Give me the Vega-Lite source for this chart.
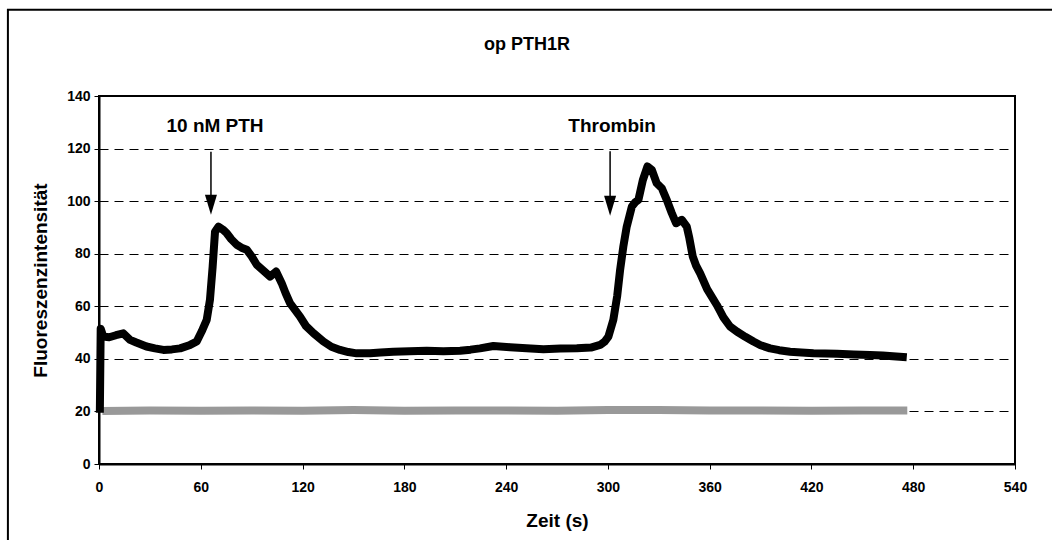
{
  "$schema": "https://vega.github.io/schema/vega-lite/v6.json",
  "width": 916,
  "height": 368,
  "autosize": {"type": "none"},
  "padding": {"left": 99, "top": 96, "right": 37, "bottom": 76},
  "background": "white",
  "title": {"text": "op PTH1R", "font": "Liberation Sans", "fontSize": 18, "fontWeight": "bold", "color": "black", "anchor": "middle", "offset": -45, "dx": -30},
  "config": {
    "view": {"stroke": "black", "strokeWidth": 2},
    "axis": {
      "domainColor": "black", "domainWidth": 2, "tickColor": "black", "tickWidth": 1, "tickSize": 5,
      "labelFont": "Liberation Sans", "labelFontSize": 14, "labelFontWeight": "bold", "labelColor": "black",
      "titleFont": "Liberation Sans", "titleFontWeight": "bold", "titleColor": "black"
    }
  },
  "datasets": {
    "signal": [
      {"t": 0.5, "v": 19.5, "s": "black"}, {"t": 1.0, "v": 51.5, "s": "black"}, {"t": 2.5, "v": 48.5, "s": "black"},
      {"t": 6, "v": 48.2, "s": "black"}, {"t": 10, "v": 49.0, "s": "black"}, {"t": 14.3, "v": 49.7, "s": "black"},
      {"t": 18.3, "v": 47.2, "s": "black"}, {"t": 22, "v": 46.2, "s": "black"}, {"t": 28, "v": 44.7, "s": "black"},
      {"t": 33, "v": 44.0, "s": "black"}, {"t": 38, "v": 43.4, "s": "black"}, {"t": 43, "v": 43.6, "s": "black"},
      {"t": 47.8, "v": 44.0, "s": "black"}, {"t": 53.7, "v": 45.3, "s": "black"}, {"t": 57.6, "v": 46.6, "s": "black"},
      {"t": 60.5, "v": 50.4, "s": "black"}, {"t": 63.5, "v": 54.8, "s": "black"}, {"t": 65.4, "v": 62.4, "s": "black"},
      {"t": 67, "v": 75.1, "s": "black"}, {"t": 68.4, "v": 88.4, "s": "black"}, {"t": 70.4, "v": 90.3, "s": "black"},
      {"t": 73, "v": 89.2, "s": "black"}, {"t": 75.3, "v": 87.8, "s": "black"}, {"t": 78, "v": 85.5, "s": "black"},
      {"t": 81.2, "v": 83.4, "s": "black"}, {"t": 84, "v": 82.3, "s": "black"}, {"t": 87.1, "v": 81.5, "s": "black"},
      {"t": 90, "v": 79.0, "s": "black"}, {"t": 93, "v": 75.8, "s": "black"}, {"t": 97, "v": 73.5, "s": "black"},
      {"t": 100.8, "v": 71.3, "s": "black"}, {"t": 104.4, "v": 73.2, "s": "black"}, {"t": 107.7, "v": 68.8, "s": "black"},
      {"t": 110, "v": 65.0, "s": "black"}, {"t": 112.6, "v": 61.2, "s": "black"}, {"t": 118.5, "v": 56.1, "s": "black"},
      {"t": 122, "v": 52.5, "s": "black"}, {"t": 126.4, "v": 49.8, "s": "black"}, {"t": 132.3, "v": 46.6, "s": "black"},
      {"t": 137, "v": 44.6, "s": "black"}, {"t": 142.1, "v": 43.4, "s": "black"}, {"t": 147, "v": 42.6, "s": "black"},
      {"t": 151.9, "v": 42.1, "s": "black"}, {"t": 159.8, "v": 42.1, "s": "black"}, {"t": 166, "v": 42.4, "s": "black"},
      {"t": 173.5, "v": 42.7, "s": "black"}, {"t": 183, "v": 42.9, "s": "black"}, {"t": 193.2, "v": 43.1, "s": "black"},
      {"t": 203, "v": 42.9, "s": "black"}, {"t": 212.9, "v": 43.1, "s": "black"}, {"t": 219, "v": 43.5, "s": "black"},
      {"t": 224.6, "v": 44.0, "s": "black"}, {"t": 232.5, "v": 44.9, "s": "black"}, {"t": 242.3, "v": 44.4, "s": "black"},
      {"t": 252, "v": 44.0, "s": "black"}, {"t": 262, "v": 43.7, "s": "black"}, {"t": 272, "v": 43.9, "s": "black"},
      {"t": 281.7, "v": 44.0, "s": "black"}, {"t": 290, "v": 44.3, "s": "black"}, {"t": 295.4, "v": 45.3, "s": "black"},
      {"t": 298, "v": 46.5, "s": "black"}, {"t": 300.3, "v": 48.5, "s": "black"}, {"t": 303.2, "v": 54.8, "s": "black"},
      {"t": 305.5, "v": 64.0, "s": "black"}, {"t": 307.2, "v": 73.8, "s": "black"}, {"t": 309.1, "v": 82.7, "s": "black"},
      {"t": 311.1, "v": 90.3, "s": "black"}, {"t": 314.1, "v": 97.9, "s": "black"}, {"t": 316, "v": 99.5, "s": "black"},
      {"t": 318, "v": 100.5, "s": "black"}, {"t": 320.6, "v": 108.0, "s": "black"}, {"t": 323.3, "v": 113.2, "s": "black"},
      {"t": 325.9, "v": 111.9, "s": "black"}, {"t": 328.8, "v": 106.8, "s": "black"}, {"t": 331.8, "v": 104.9, "s": "black"},
      {"t": 334.7, "v": 100.5, "s": "black"}, {"t": 337.7, "v": 95.4, "s": "black"}, {"t": 340.2, "v": 91.6, "s": "black"},
      {"t": 343.6, "v": 92.9, "s": "black"}, {"t": 346.5, "v": 90.3, "s": "black"}, {"t": 348, "v": 86.0, "s": "black"},
      {"t": 350, "v": 79.0, "s": "black"}, {"t": 352, "v": 75.5, "s": "black"}, {"t": 354.4, "v": 72.5, "s": "black"},
      {"t": 358.5, "v": 66.5, "s": "black"}, {"t": 364.2, "v": 60.5, "s": "black"}, {"t": 368.1, "v": 55.8, "s": "black"},
      {"t": 372, "v": 52.3, "s": "black"}, {"t": 376, "v": 50.4, "s": "black"}, {"t": 381, "v": 48.4, "s": "black"},
      {"t": 385.8, "v": 46.6, "s": "black"}, {"t": 390, "v": 45.2, "s": "black"}, {"t": 395.6, "v": 44.0, "s": "black"},
      {"t": 401, "v": 43.3, "s": "black"}, {"t": 407.4, "v": 42.7, "s": "black"}, {"t": 414, "v": 42.4, "s": "black"},
      {"t": 421.2, "v": 42.1, "s": "black"}, {"t": 428, "v": 42.0, "s": "black"}, {"t": 435, "v": 41.9, "s": "black"},
      {"t": 445, "v": 41.7, "s": "black"}, {"t": 454.6, "v": 41.5, "s": "black"}, {"t": 462, "v": 41.3, "s": "black"},
      {"t": 470, "v": 40.9, "s": "black"}, {"t": 476.2, "v": 40.6, "s": "black"},
      {"t": 2, "v": 20.2, "s": "gray"}, {"t": 30, "v": 20.4, "s": "gray"}, {"t": 60, "v": 20.3, "s": "gray"},
      {"t": 90, "v": 20.4, "s": "gray"}, {"t": 120, "v": 20.3, "s": "gray"}, {"t": 150, "v": 20.5, "s": "gray"},
      {"t": 180, "v": 20.3, "s": "gray"}, {"t": 210, "v": 20.4, "s": "gray"}, {"t": 240, "v": 20.4, "s": "gray"},
      {"t": 270, "v": 20.3, "s": "gray"}, {"t": 300, "v": 20.5, "s": "gray"}, {"t": 330, "v": 20.5, "s": "gray"},
      {"t": 360, "v": 20.4, "s": "gray"}, {"t": 390, "v": 20.4, "s": "gray"}, {"t": 420, "v": 20.3, "s": "gray"},
      {"t": 450, "v": 20.4, "s": "gray"}, {"t": 476.5, "v": 20.4, "s": "gray"}
    ],
    "notes": [
      {"label": "10 nM PTH", "tx": 68.4, "ty": 128.7, "ax": 66.0, "a1": 118.8, "a2": 99.5, "ah": 98.6},
      {"label": "Thrombin", "tx": 302.5, "ty": 128.7, "ax": 301.3, "a1": 119.0, "a2": 99.5, "ah": 98.2}
    ]
  },
  "layer": [
    {
      "data": {"values": [{}]},
      "mark": {"type": "rect", "filled": false, "stroke": "black", "strokeWidth": 2, "clip": false},
      "encoding": {
        "x": {"datum": -53.7, "type": "quantitative", "scale": {"domain": [0, 540], "nice": false}},
        "x2": {"datum": 575},
        "y": {"datum": 172.8, "type": "quantitative", "scale": {"domain": [0, 140], "nice": false}},
        "y2": {"datum": -40}
      }
    },
    {
      "data": {"name": "signal"},
      "transform": [{"filter": "datum.s === 'gray'"}],
      "mark": {"type": "line", "color": "#999999", "strokeWidth": 8, "strokeCap": "butt", "strokeJoin": "round"},
      "encoding": {
        "x": {"field": "t", "type": "quantitative", "scale": {"domain": [0, 540], "nice": false},
          "axis": {"values": [0, 60, 120, 180, 240, 300, 360, 420, 480, 540], "title": "Zeit (s)", "titleFontSize": 19, "labelPadding": 11, "titlePadding": 17, "grid": false, "labelFlush": false}},
        "y": {"field": "v", "type": "quantitative", "scale": {"domain": [0, 140], "nice": false},
          "axis": {"values": [0, 20, 40, 60, 80, 100, 120, 140], "title": "Fluoreszenzintensität", "titleFontSize": 19, "labelPadding": 4, "titlePadding": 16,
            "grid": true, "gridColor": "black", "gridWidth": 1, "gridDash": [9, 6], "labelFlush": false}}
      }
    },
    {
      "data": {"name": "signal"},
      "transform": [{"filter": "datum.s === 'black'"}],
      "mark": {"type": "line", "color": "black", "strokeWidth": 8, "strokeCap": "butt", "strokeJoin": "round"},
      "encoding": {
        "x": {"field": "t", "type": "quantitative"},
        "y": {"field": "v", "type": "quantitative"}
      }
    },
    {
      "data": {"name": "notes"},
      "mark": {"type": "rule", "color": "black", "strokeWidth": 1.5},
      "encoding": {
        "x": {"field": "ax", "type": "quantitative"},
        "y": {"field": "a1", "type": "quantitative"},
        "y2": {"field": "a2"}
      }
    },
    {
      "data": {"name": "notes"},
      "mark": {"type": "point", "shape": "M-0.6,-1L0.6,-1L0,1Z", "size": 400, "filled": true, "color": "black", "opacity": 1},
      "encoding": {
        "x": {"field": "ax", "type": "quantitative"},
        "y": {"field": "ah", "type": "quantitative"}
      }
    },
    {
      "data": {"name": "notes"},
      "mark": {"type": "text", "font": "Liberation Sans", "fontSize": 19, "fontWeight": "bold", "color": "black", "align": "center", "baseline": "middle"},
      "encoding": {
        "x": {"field": "tx", "type": "quantitative"},
        "y": {"field": "ty", "type": "quantitative"},
        "text": {"field": "label"}
      }
    }
  ]
}
